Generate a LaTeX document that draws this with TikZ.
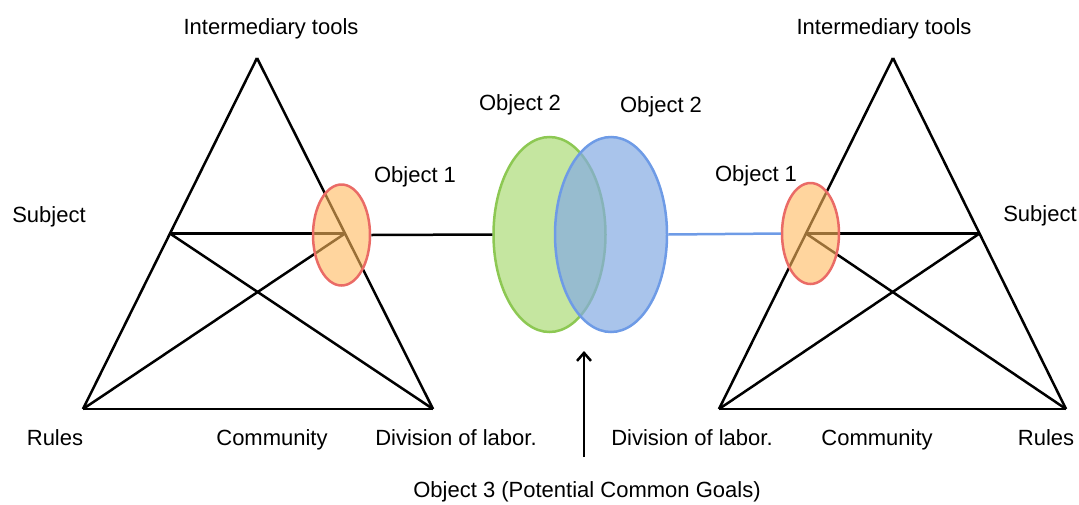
\documentclass[tikz,border=0pt]{standalone}
\usepackage{fontspec}
\setmainfont{Liberation Sans}
\usetikzlibrary{shapes.geometric,arrows.meta}

\definecolor{orfill}{RGB}{255,185,93}
\definecolor{orline}{RGB}{234,107,102}
\definecolor{grfill}{RGB}{197,230,160}
\definecolor{grline}{RGB}{141,200,83}
\definecolor{blfill}{RGB}{132,171,227}
\definecolor{blline}{RGB}{110,155,230}

\begin{document}
\begin{tikzpicture}[x=1pt,y=-1pt,
edge/.style={draw, line width=2.5pt},
txt/.style={anchor=base, inner sep=0pt, font=\fontsize{22}{26}\selectfont},
orange/.style={ellipse, draw=orline, fill=orfill, fill opacity=0.6, line width=2.5pt, minimum width=57pt, minimum height=101pt, inner sep=0pt},
green/.style={ellipse, draw=grline, fill=grfill, line width=2.5pt, minimum width=112pt, minimum height=195pt, inner sep=0pt},
blue/.style={ellipse, draw=blline, fill=blfill, fill opacity=0.7, line width=2.5pt, minimum width=112pt, minimum height=195pt, inner sep=0pt},
]
\useasboundingbox (0,0) rectangle (1079,504);

% left triangle
\coordinate (la) at (257,58);
\coordinate (lb) at (83,409);
\coordinate (lc) at (433,409);
\coordinate (lm) at (170,233.5);
\coordinate (ln) at (345,233.5);
% right triangle
\coordinate (ra) at (893,58);
\coordinate (rb) at (719,409);
\coordinate (rc) at (1066,409);
\coordinate (rm) at (806,233.5);
\coordinate (rn) at (979.5,233.5);

\path[edge]
(la) edge (lb)
(la) edge (lc)
(lb) edge (lc)
(lm) edge (ln)
(lm) edge (lc)
(ln) edge (lb)
(ra) edge (rb)
(ra) edge (rc)
(rb) edge (rc)
(rm) edge (rn)
(rm) edge (rc)
(rn) edge (rb)
;

\node[orange] (o1l) at (341.5,235) {};
\node[orange] (o1r) at (810.5,233.5) {};
\node[green] (o2g) at (549.5,234.5) {};
\node[blue] (o2b) at (611,234.5) {};

\draw[edge] (o1l.east) -- (o2g.west);
\draw[edge, blline] (o2b.east) -- (o1r.west);

\coordinate (tail) at (584,457);
\coordinate (tip) at (584,351);
\draw[edge, -{Straight Barb[length=8pt,width=14pt]}] (tail) -- (tip);

% labels
\node[txt] (tl) at (271,34) {Intermediary tools};
\node[txt] (sl) at (49,222) {Subject};
\node[txt] (bl) at (415,182) {Object 1};
\node[txt] (rl) at (55,445) {Rules};
\node[txt] (cl) at (272,445) {Community};
\node[txt] (dl) at (456,445) {Division of labor.};
\node[txt] (g2) at (520,110) {Object 2};
\node[txt] (b2) at (661,112) {Object 2};
\node[txt] (o3) at (587,497) {Object 3 (Potential Common Goals)};
\node[txt] (tr) at (884,34) {Intermediary tools};
\node[txt] (sr) at (1040,221) {Subject};
\node[txt] (br) at (756,181) {Object 1};
\node[txt] (dr) at (692,445) {Division of labor.};
\node[txt] (cr) at (877,445) {Community};
\node[txt] (rr) at (1046,445) {Rules};
\end{tikzpicture}
\end{document}
